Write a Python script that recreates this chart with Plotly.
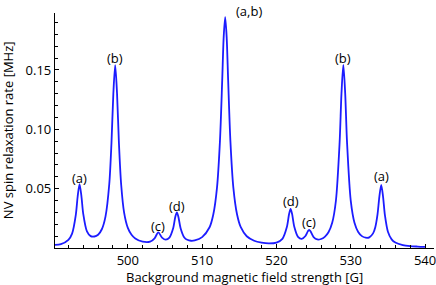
import plotly.graph_objects as go

# Background magnetic field strength [G] (sampled along the curve)
field_G = [490.0, 491.0, 492.0, 492.5, 493.0, 493.25, 493.5, 493.75, 494.0, 494.5,
           495.0, 495.5, 496.0, 496.5, 497.0, 497.5, 497.8, 498.05, 498.3, 498.55,
           498.8, 499.1, 499.5, 500.0, 500.5, 501.0, 502.0, 503.0, 503.6, 504.1,
           504.6, 505.1, 505.6, 506.1, 506.4, 506.6, 506.8, 507.1, 507.6, 508.0,
           508.5, 509.0, 510.0, 511.0, 511.5, 512.0, 512.4, 512.7, 512.9, 513.1,
           513.3, 513.5, 513.8, 514.2, 514.7, 515.2, 516.0, 517.0, 518.0, 519.0,
           520.0, 520.8, 521.4, 521.7, 521.9, 522.1, 522.4, 522.9, 523.4, 523.9,
           524.2, 524.4, 524.6, 525.0, 525.5, 526.0, 526.5, 527.0, 527.5, 528.0,
           528.5, 528.75, 529.0, 529.25, 529.5, 530.0, 530.5, 531.0, 531.5, 532.0,
           532.5, 533.0, 533.3, 533.6, 533.85, 534.1, 534.35, 534.6, 535.0, 535.5,
           536.0, 537.0, 538.0, 539.0, 540.0]

# NV spin relaxation rate [MHz]
rate_MHz = [0.0025, 0.0032, 0.0068, 0.0121, 0.0279, 0.0434, 0.0538, 0.0439, 0.0288, 0.0140,
            0.0100, 0.0097, 0.0112, 0.0158, 0.0267, 0.0537, 0.0886, 0.1299, 0.1540, 0.1300,
            0.0887, 0.0537, 0.0298, 0.0169, 0.0111, 0.0080, 0.0053, 0.0053, 0.0082, 0.0131,
            0.0088, 0.0070, 0.0088, 0.0166, 0.0266, 0.0301, 0.0264, 0.0167, 0.0089, 0.0069,
            0.0061, 0.0064, 0.0092, 0.0175, 0.0282, 0.0509, 0.0905, 0.1413, 0.1778, 0.1945,
            0.1778, 0.1413, 0.0905, 0.0509, 0.0282, 0.0175, 0.0099, 0.0061, 0.0045, 0.0039,
            0.0046, 0.0077, 0.0176, 0.0286, 0.0329, 0.0288, 0.0179, 0.0094, 0.0077, 0.0101,
            0.0138, 0.0153, 0.0139, 0.0092, 0.0072, 0.0076, 0.0094, 0.0132, 0.0212, 0.0398,
            0.0890, 0.1303, 0.1543, 0.1301, 0.0888, 0.0397, 0.0213, 0.0135, 0.0100, 0.0087,
            0.0090, 0.0123, 0.0175, 0.0283, 0.0433, 0.0532, 0.0429, 0.0274, 0.0137, 0.0073,
            0.0046, 0.0025, 0.0016, 0.0012, 0.0009]

# Peak labels
peak_labels = ["(a)", "(b)", "(c)", "(d)", "(a,b)", "(d)", "(c)", "(b)", "(a)"]
label_G = [493.5, 498.3, 504.1, 506.6, 516.3, 521.9, 524.4, 529.0, 534.1]
label_rate = [0.0593, 0.160, 0.0188, 0.0357, 0.1995, 0.0393, 0.0216, 0.160, 0.0604]

# Axis ticks
x_ticks = [500, 510, 520, 530, 540]
x_ticktext = ["500", "510", "520", "530", "540"]
y_ticks = [0.05, 0.10, 0.15]
y_ticktext = ["0.05", "0.10", "0.15"]

X_RANGE = [490.2, 541.2]
Y_RANGE = [0, 0.198]
FONT = "Open Sans"

fig = go.Figure()
fig.add_trace(go.Scatter(
    x=field_G, y=rate_MHz, mode="lines",
    line=dict(color="#1c1cff", width=1.8, shape="spline", smoothing=0.8),
    hoverinfo="skip", showlegend=False,
))

for txt, xv, yv in zip(peak_labels, label_G, label_rate):
    fig.add_annotation(x=xv, xref="x", y=(yv - Y_RANGE[0]) / (Y_RANGE[1] - Y_RANGE[0]),
                       yref="paper", text=txt, showarrow=False,
                       font=dict(family=FONT, size=13, color="black"),
                       xanchor="center", yanchor="middle")

# axis titles
fig.add_annotation(x=0.5, y=-0.125, xref="paper", yref="paper", yanchor="middle",
                   text="Background magnetic field strength [G]", showarrow=False,
                   font=dict(family=FONT, size=13, color="black"))
fig.add_annotation(x=-0.125, y=0.5, xref="paper", yref="paper", xanchor="center",
                   text="NV spin relaxation rate [MHz]", showarrow=False, textangle=-90,
                   font=dict(family=FONT, size=13, color="black"))

fig.update_layout(
    width=436, height=285,
    margin=dict(l=55, r=2, t=13, b=37),
    paper_bgcolor="white", plot_bgcolor="white",
    font=dict(family=FONT, size=13, color="black"),
)
fig.update_xaxes(
    range=X_RANGE, showgrid=False, zeroline=False, automargin=False,
    showline=True, linecolor="black", linewidth=1.3,
    tickvals=x_ticks, ticktext=x_ticktext,
    ticks="inside", ticklen=4, tickwidth=1, tickcolor="black",
    ticklabelstandoff=0, ticklabeloverflow="allow",
    minor=dict(dtick=2, tick0=490, ticks="inside", ticklen=2.5, tickwidth=1, tickcolor="black"),
    tickfont=dict(family=FONT, size=13, color="black"),
)
fig.update_yaxes(
    range=Y_RANGE, showgrid=False, zeroline=False, automargin=False,
    showline=True, linecolor="black", linewidth=1.3,
    tickvals=y_ticks, ticktext=y_ticktext,
    ticks="inside", ticklen=4, tickwidth=1, tickcolor="black",
    ticklabelstandoff=0, ticklabeloverflow="allow",
    minor=dict(dtick=0.01, tick0=0, ticks="inside", ticklen=2.5, tickwidth=1, tickcolor="black"),
    tickfont=dict(family=FONT, size=13, color="black"),
)

fig.write_html("out.html", config={"displayModeBar": False},
               post_script="document.body.style.margin='0';document.body.style.overflow='hidden';")
